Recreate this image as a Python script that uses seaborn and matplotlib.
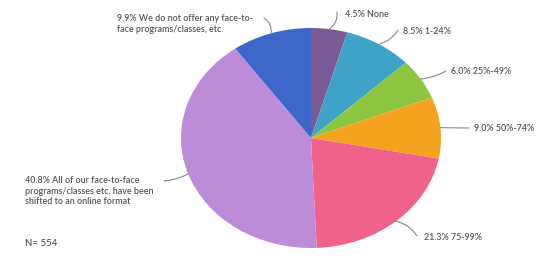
import numpy as np
import matplotlib
matplotlib.use("Agg")
import matplotlib.pyplot as plt
import seaborn as sns

# ---- data ----
categories = ["None", "1-24%", "25%-49%", "50%-74%", "75-99%",
              "All of our face-to-face\nprograms/classes etc. have been\nshifted to an online format",
              "We do not offer any face-to-\nface programs/classes, etc."]
values = [4.5, 8.5, 6.0, 9.0, 21.3, 40.8, 9.9]
colors = ["#7b5b96", "#3ea3c6", "#8dc540", "#f5a21e", "#f0628a", "#bd8cd9", "#3c67c9"]
n_label = "N= 554"

sns.set_theme(style="white")
plt.rcParams["font.family"] = ["Lato", "DejaVu Sans"]

W, H = 541, 261
fig = plt.figure(figsize=(W / 100, H / 100), dpi=100)
ax = fig.add_axes([0, 0, 1, 1])

cx, cy, rx, ry = 311, 138, 130, 110
ax.pie(values, colors=colors, startangle=90, counterclock=False,
       radius=1, center=(0, 0), wedgeprops=dict(linewidth=0))
ax.set_aspect("auto")
ax.set_xlim(-cx / rx, (W - cx) / rx)
ax.set_ylim(-(H - cy) / ry, cy / ry)
ax.axis("off")


def px(x, y):
    return ((x - cx) / rx, (cy - y) / ry)


# label text positions in pixels (left edge, vertical centre)
text_pos = [(345, 14), (403, 31), (451, 71), (474, 128), (424, 237), (25, 191), (117, 24)]
line_end = [(337, 12), (398, 30), (446, 71), (469, 128), (417, 236), (164, 181), (264, 18)]
rads = [-0.3, -0.2, -0.1, 0.0, 0.2, 0.1, -0.3]

cum = np.cumsum([0] + values[:-1])
txt_color = "#555555"
fs = 6.4
for i, (cat, v) in enumerate(zip(categories, values)):
    mid = (cum[i] + v / 2) / 100 * 2 * np.pi
    ex, ey = np.sin(mid), np.cos(mid)
    ax.annotate("", xy=(ex, ey), xytext=px(*line_end[i]),
                arrowprops=dict(arrowstyle="-", color="#888888", lw=0.8,
                                connectionstyle=f"arc3,rad={rads[i]}",
                                shrinkA=0, shrinkB=0))
    tx, ty = px(*text_pos[i])
    ax.text(tx, ty, f"{v:.1f}% {cat}", fontsize=fs, color=txt_color,
            ha="left", va="center", linespacing=1.25, fontweight="semibold")

tx, ty = px(25, 243)
ax.text(tx, ty, n_label, fontsize=7, color="#444444", ha="left", va="center")

fig.savefig("out.png", dpi=100)
